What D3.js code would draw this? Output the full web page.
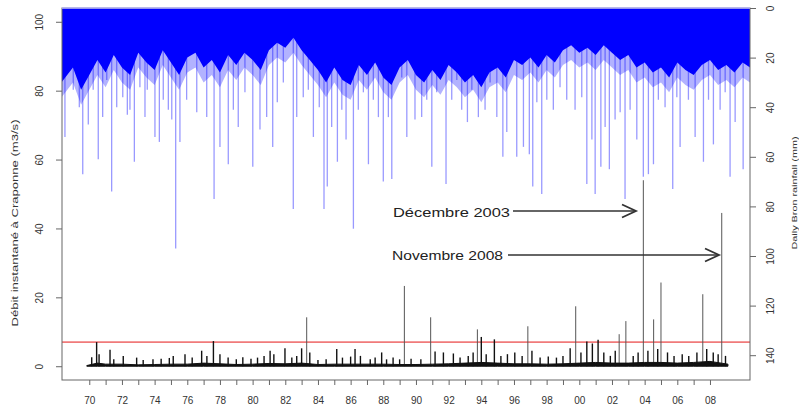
<!DOCTYPE html>
<html>
<head>
<meta charset="utf-8">
<script src="https://cdn.jsdelivr.net/npm/d3@7"></script>
<style>
  body { margin: 0; background: #ffffff; }
  svg { display: block; font-family: "Liberation Sans", Arial, sans-serif; }
</style>
</head>
<body>
<div id="main_output"></div>
<script>
// flow at Craponne (m3/s): flood peaks
var flowYears = [1970.15, 1970.45, 1970.6, 1971.27, 1971.5, 1972.08, 1972.9, 1973.3, 1973.9, 1974.4,
  1974.9, 1975.14, 1975.86, 1976.3, 1976.88, 1977.2, 1977.6, 1978.0, 1978.5, 1979.0,
  1979.4, 1979.9, 1980.3, 1980.7, 1981.07, 1981.3, 1981.98, 1982.4, 1982.7, 1983.0,
  1983.31, 1983.5, 1984.0, 1984.5, 1985.15, 1985.5, 1986.0, 1986.27, 1986.6, 1987.2,
  1987.5, 1987.9, 1988.2, 1988.6, 1989.0, 1989.29, 1989.7, 1990.3, 1990.9, 1991.17,
  1991.68, 1992.29, 1992.7, 1993.2, 1993.5, 1993.76, 1994.0, 1994.3, 1994.8, 1995.2,
  1995.6, 1996.05, 1996.5, 1996.85, 1997.1, 1997.6, 1998.1, 1998.6, 1999.0, 1999.44,
  1999.78, 2000.1, 2000.46, 2000.8, 2001.15, 2001.5, 2001.9, 2002.2, 2002.44, 2002.85,
  2003.3, 2003.6, 2003.92, 2004.2, 2004.55, 2004.8, 2005.0, 2005.4, 2005.8, 2006.3,
  2006.7, 2007.2, 2007.56, 2007.8, 2008.2, 2008.5, 2008.72, 2008.95];
var flowPeaks = [2.6, 7.0, 3.5, 4.8, 2.0, 3.0, 2.5, 1.8, 2.0, 2.2,
  2.4, 3.0, 3.5, 2.5, 4.5, 3.0, 7.3, 3.5, 2.5, 2.0,
  2.6, 2.2, 2.5, 3.0, 4.5, 3.5, 5.2, 2.5, 3.0, 5.2,
  14.2, 4.0, 1.8, 2.0, 5.0, 2.5, 2.8, 5.0, 3.0, 2.0,
  2.5, 4.0, 2.0, 2.5, 2.0, 23.3, 2.2, 2.0, 14.2, 4.3,
  4.0, 3.7, 2.5, 3.0, 4.0, 10.7, 8.5, 3.5, 7.8, 3.0,
  3.5, 4.0, 3.0, 11.6, 4.5, 2.5, 2.8, 2.5, 3.0, 5.2,
  17.4, 4.0, 7.2, 6.6, 7.7, 4.0, 3.0, 4.5, 9.3, 13.1,
  3.0, 4.0, 54, 4.5, 13.6, 5.0, 24.3, 4.0, 3.0, 3.5,
  3.0, 4.0, 20.9, 5.0, 4.0, 3.5, 44.5, 3.0];

// low-flow level
var baseYears = [1969.85, 1970.5, 1971, 1972, 1973, 1974, 1975, 1976, 1977, 1978,
  1979, 1980, 1981, 1982, 1983, 1984, 1985, 1986, 1987, 1988,
  1989, 1990, 1991, 1992, 1993, 1994, 1995, 1996, 1997, 1998,
  1999, 2000, 2001, 2002, 2003, 2004, 2005, 2006, 2007, 2008, 2009.1];
var baseFlow = [0.2, 0.9, 0.6, 0.6, 0.4, 0.5, 0.6, 0.6, 0.9, 0.7,
  0.5, 0.6, 0.8, 0.7, 0.9, 0.5, 0.6, 0.6, 0.6, 0.6,
  0.5, 0.5, 0.6, 0.7, 0.9, 1.1, 0.9, 0.7, 0.7, 0.6,
  0.7, 0.9, 1.1, 0.9, 0.9, 1.1, 1.1, 0.9, 1.1, 1.4, 0.6];

// daily Bron rainfall (mm): marked days
var rainYears = [1968.51, 1969.02, 1969.39, 1969.60, 1969.94, 1970.24, 1970.55, 1970.82, 1971.07, 1971.37,
  1971.68, 1972.05, 1972.33, 1972.49, 1972.76, 1973.10, 1973.41, 1973.55, 1974.02, 1974.29,
  1974.53, 1974.84, 1975.05, 1975.29, 1975.55, 1975.96, 1976.58, 1977.19, 1977.64, 1978.00,
  1978.51, 1978.82, 1979.12, 1979.53, 1980.01, 1980.45, 1980.86, 1981.23, 1981.51, 1981.88,
  1982.49, 1982.70, 1983.10, 1983.41, 1983.72, 1984.08, 1984.37, 1984.57, 1984.84, 1985.19,
  1985.46, 1985.72, 1986.17, 1986.47, 1986.78, 1987.09, 1987.39, 1987.70, 1988.00, 1988.31,
  1988.52, 1989.13, 1989.44, 1989.94, 1990.35, 1990.66, 1990.97, 1991.27, 1991.84, 1992.19,
  1992.50, 1992.80, 1993.15, 1993.42, 1993.82, 1994.23, 1994.54, 1994.95, 1995.32, 1995.56,
  1996.17, 1996.58, 1996.94, 1997.15, 1997.40, 1997.70, 1998.01, 1998.41, 1998.82, 1999.23,
  1999.74, 2000.15, 2000.46, 2000.77, 2000.97, 2001.32, 2001.58, 2001.84, 2002.19, 2002.50,
  2002.80, 2003.11, 2003.52, 2003.92, 2004.23, 2004.54, 2004.84, 2005.25, 2005.72, 2005.97,
  2006.17, 2006.68, 2007.09, 2007.60, 2007.91, 2008.21, 2008.62, 2008.93, 2009.23, 2009.54, 2010.03];
var rainMm = [52, 33, 40, 67, 47, 33, 61, 44, 29, 74,
  40, 36, 43, 41, 62, 32, 44, 33, 52, 54,
  37, 41, 45, 97, 54, 37, 42, 44, 77, 56,
  63, 41, 48, 34, 64, 49, 44, 56, 38, 30,
  81, 44, 36, 33, 52, 40, 81, 72, 48, 62,
  41, 53, 89, 41, 34, 63, 37, 44, 70, 44,
  69, 28, 52, 45, 44, 37, 64, 34, 71, 37,
  29, 41, 46, 33, 44, 41, 30, 44, 60, 50,
  60, 56, 59, 72, 38, 75, 37, 41, 32, 37,
  41, 36, 71, 53, 75, 64, 48, 65, 45, 42,
  77, 41, 53, 68, 67, 63, 37, 40, 73, 36,
  56, 37, 52, 62, 37, 55, 41, 34, 68, 46, 65];

// depth reached by the dense mass of ordinary rainy days (mm), half-year steps
var bandYears = [1968.3, 1969.0, 1969.5, 1970.0, 1970.5, 1971.0, 1971.5, 1972.0, 1972.5, 1973.0,
  1973.5, 1974.0, 1974.5, 1975.0, 1975.5, 1976.0, 1976.5, 1977.0, 1977.5, 1978.0,
  1978.5, 1979.0, 1979.5, 1980.0, 1980.5, 1981.0, 1981.5, 1982.0, 1982.5, 1983.0,
  1983.5, 1984.0, 1984.5, 1985.0, 1985.5, 1986.0, 1986.5, 1987.0, 1987.5, 1988.0,
  1988.5, 1989.0, 1989.5, 1990.0, 1990.5, 1991.0, 1991.5, 1992.0, 1992.5, 1993.0,
  1993.5, 1994.0, 1994.5, 1995.0, 1995.5, 1996.0, 1996.5, 1997.0, 1997.5, 1998.0,
  1998.5, 1999.0, 1999.5, 2000.0, 2000.5, 2001.0, 2001.5, 2002.0, 2002.5, 2003.0,
  2003.5, 2004.0, 2004.5, 2005.0, 2005.5, 2006.0, 2006.5, 2007.0, 2007.5, 2008.0,
  2008.5, 2009.0, 2009.5, 2010.0, 2010.45];
var bandMm = [30, 24, 33, 27, 21, 26, 19, 24, 27, 18,
  22, 25, 17, 22, 27, 20, 18, 24, 21, 26,
  19, 23, 18, 21, 25, 17, 14, 16, 12, 17,
  21, 25, 30, 24, 29, 31, 23, 27, 22, 28,
  31, 24, 21, 27, 30, 25, 29, 23, 26, 30,
  27, 32, 26, 24, 28, 21, 23, 20, 24, 19,
  22, 17, 15, 18, 16, 19, 15, 18, 21, 19,
  24, 22, 26, 24, 28, 22, 25, 27, 23, 21,
  25, 23, 26, 22, 24];

var yearTicks = d3.range(1970, 2009);
var flowTicks = [0, 20, 40, 60, 80, 100];
var rainTicks = [0, 20, 40, 60, 80, 100, 120, 140];
var threshold = 7;

var notes = [
  {label: "Décembre 2003", tx: 393, ty: 217, len: 117, x0: 513, x1: 636, y: 211},
  {label: "Novembre 2008", tx: 392, ty: 260, len: 111, x0: 508, x1: 719, y: 255}
];

var W = 799, H = 412;
var plot = {left: 62, right: 750, top: 8, bottom: 380};

var x = d3.scaleLinear().domain([1968.33, 2010.45]).range([plot.left, plot.right]);
var y = d3.scaleLinear().domain([-4, 104]).range([plot.bottom, plot.top]);
var yRain = d3.scaleLinear().domain([0, 150]).range([plot.top, plot.bottom]);

var svg = d3.select("#main_output").append("svg")
  .attr("width", W).attr("height", H);

svg.append("defs").append("clipPath").attr("id", "plotclip")
  .append("rect")
  .attr("x", plot.left).attr("y", plot.top)
  .attr("width", plot.right - plot.left).attr("height", plot.bottom - plot.top);

var g = svg.append("g").attr("clip-path", "url(#plotclip)");

// rainfall hanging from the top
var band = bandYears.map(function(d, i) { return [d, bandMm[i]]; });
g.append("path")
  .datum(band)
  .attr("fill", "#0000ff")
  .attr("fill-opacity", 0.3)
  .attr("d", d3.area()
    .x(function(d) { return x(d[0]); })
    .y0(yRain(0))
    .y1(function(d) { return yRain(d[1] + 6); }));

g.append("path")
  .datum(band)
  .attr("fill", "#0000ff")
  .attr("d", d3.area()
    .x(function(d) { return x(d[0]); })
    .y0(yRain(0))
    .y1(function(d) { return yRain(d[1]); }));

g.selectAll(".rain")
  .data(rainYears)
  .enter().append("line")
  .attr("class", "rain")
  .attr("x1", function(d) { return x(d); })
  .attr("x2", function(d) { return x(d); })
  .attr("y1", yRain(0))
  .attr("y2", function(d, i) { return yRain(rainMm[i]); })
  .attr("stroke", "#0000ff")
  .attr("stroke-opacity", 0.4)
  .attr("stroke-width", 1.3);

// threshold
g.append("line")
  .attr("x1", plot.left).attr("x2", plot.right)
  .attr("y1", y(threshold)).attr("y2", y(threshold))
  .attr("stroke", "#f07a7a")
  .attr("stroke-width", 1.6);

// flow
g.selectAll(".peak")
  .data(flowYears)
  .enter().append("line")
  .attr("class", "peak")
  .attr("x1", function(d) { return x(d); })
  .attr("x2", function(d) { return x(d); })
  .attr("y1", y(0))
  .attr("y2", function(d, i) { return y(flowPeaks[i]); })
  .attr("stroke", function(d, i) { return flowPeaks[i] > 9 ? "#555555" : "#111111"; })
  .attr("stroke-width", function(d, i) { return flowPeaks[i] > 9 ? 1 : 1.4; });

var base = baseYears.map(function(d, i) { return [d, baseFlow[i]]; });
g.append("path")
  .datum(base)
  .attr("fill", "#111111")
  .attr("stroke", "#111111")
  .attr("stroke-width", 1)
  .attr("d", d3.area()
    .x(function(d) { return x(d[0]); })
    .y0(y(0))
    .y1(function(d) { return y(d[1]); }));

// box
svg.append("rect")
  .attr("x", plot.left).attr("y", plot.top)
  .attr("width", plot.right - plot.left).attr("height", plot.bottom - plot.top)
  .attr("fill", "none")
  .attr("stroke", "#666666")
  .attr("stroke-width", 1);
svg.append("line")
  .attr("x1", plot.left).attr("x2", plot.right)
  .attr("y1", plot.top).attr("y2", plot.top)
  .attr("stroke", "#b8b8ff").attr("stroke-width", 1.5);

// axes
var tickColor = "#666666", textColor = "#333333";

var xAxis = svg.append("g")
  .attr("transform", "translate(0," + plot.bottom + ")")
  .call(d3.axisBottom(x).tickValues(yearTicks).tickSize(5).tickPadding(12)
    .tickFormat(function(d) { return d % 2 === 0 ? d3.format("02d")(d % 100) : ""; }));

var yAxis = svg.append("g")
  .attr("transform", "translate(" + plot.left + ",0)")
  .call(d3.axisLeft(y).tickValues(flowTicks).tickSize(6).tickPadding(4));

var rAxis = svg.append("g")
  .attr("transform", "translate(" + plot.right + ",0)")
  .call(d3.axisRight(yRain).tickValues(rainTicks).tickSize(6).tickPadding(4));

[xAxis, yAxis, rAxis].forEach(function(a) {
  a.select(".domain").remove();
  a.selectAll(".tick line").attr("stroke", tickColor);
  a.selectAll(".tick text")
    .attr("fill", textColor)
    .attr("font-size", "10px")
    .attr("font-family", "'Liberation Sans', Arial, sans-serif");
});

yAxis.selectAll(".tick text")
  .attr("text-anchor", "middle")
  .attr("dy", null)
  .attr("x", null)
  .attr("transform", "translate(-19,0) rotate(-90)");

rAxis.selectAll(".tick text")
  .attr("text-anchor", "middle")
  .attr("dy", null)
  .attr("x", null)
  .attr("transform", "translate(24,0) rotate(-90)");

// axis titles
svg.append("text")
  .attr("transform", "translate(18,223) rotate(-90)")
  .attr("text-anchor", "middle")
  .attr("font-size", "9px")
  .attr("fill", textColor)
  .attr("textLength", 207)
  .attr("lengthAdjust", "spacingAndGlyphs")
  .text("Débit instantané à Craponne (m3/s)");

svg.append("text")
  .attr("transform", "translate(797,193) rotate(-90)")
  .attr("text-anchor", "middle")
  .attr("font-size", "8px")
  .attr("fill", textColor)
  .attr("textLength", 113)
  .attr("lengthAdjust", "spacingAndGlyphs")
  .text("Daily Bron rainfall (mm)");

// annotations
var ann = svg.append("g");
notes.forEach(function(n) {
  ann.append("text")
    .attr("x", n.tx).attr("y", n.ty)
    .attr("font-size", "13px")
    .attr("fill", "#222222")
    .attr("textLength", n.len)
    .attr("lengthAdjust", "spacingAndGlyphs")
    .text(n.label);
  ann.append("line")
    .attr("x1", n.x0).attr("x2", n.x1)
    .attr("y1", n.y).attr("y2", n.y)
    .attr("stroke", "#333333").attr("stroke-width", 1.6);
  ann.append("polyline")
    .attr("points", [[n.x1 - 14, n.y - 6.5], [n.x1, n.y], [n.x1 - 14, n.y + 6.5]].join(" "))
    .attr("fill", "none")
    .attr("stroke", "#333333").attr("stroke-width", 1.8);
});
</script>
</body>
</html>
